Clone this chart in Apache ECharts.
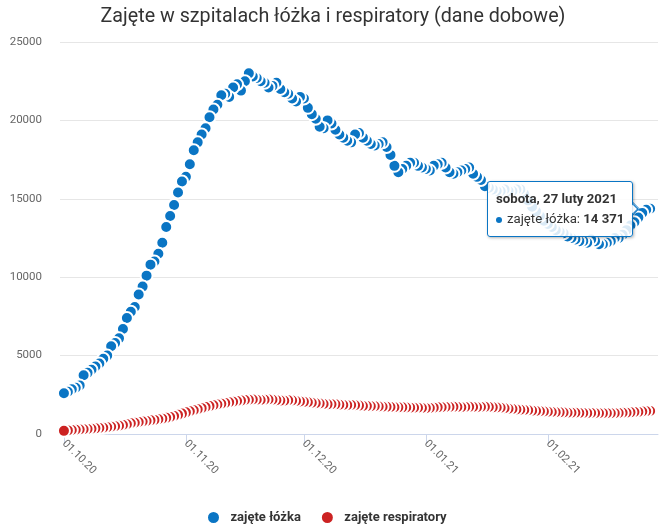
<!DOCTYPE html>
<html><head><meta charset="utf-8">
<script src="https://cdn.jsdelivr.net/npm/echarts@6/dist/echarts.min.js"></script>
<style>html,body{margin:0;padding:0;background:#fff}#c{width:666px;height:527px}</style>
</head><body><div id="c"></div>
<script>
// Daily values from 1 Oct 2020 (day index 0) to 27 Feb 2021
const bedsOct = [2600,2700,2850,2950,3100,3750,3900,4100,4300,4500,4800,5000,5600,5800,6100,6700,7400,7800,8100,8900,9400,10100,10800,11000,11500,12200,13200,13900,14600,15400,16100];
const bedsNov = [16400,17200,18100,18600,19100,19500,20200,20700,21000,21600,21700,21500,22100,22300,21900,22500,23000,22800,22700,22500,22400,22100,22200,22400,22000,21800,21700,21400,21200,21500];
const bedsDec = [21400,20800,20400,20100,19600,19500,20000,19800,19400,19100,18900,18700,18600,19100,19200,18900,18700,18500,18400,18500,18600,18300,17800,17100,16700,16900,17100,17300,17300,17100,17000];
const bedsJan = [16900,16800,17100,17200,17300,17000,16700,16600,16700,16800,16900,17000,16600,16400,16200,15800,15700,15600,15500,15500,15600,15500,15500,15600,15600,15300,14900,14500,14200,13900,13600];
const bedsFeb = [13400,13200,13000,12900,12800,12600,12500,12400,12300,12300,12200,12400,12300,12100,12100,12200,12300,12500,12500,12700,13000,13300,13500,13800,14100,14300,14371];

const ventOct = [200,230,250,270,290,300,320,340,360,380,400,430,460,490,530,570,620,680,720,760,800,830,870,900,940,980,1030,1080,1150,1220,1300];
const ventNov = [1380,1450,1520,1580,1650,1720,1780,1830,1880,1930,1980,2020,2060,2100,2130,2170,2190,2200,2180,2170,2180,2200,2190,2160,2130,2120,2150,2140,2110,2080];
const ventDec = [2050,2020,1990,1960,1940,1910,1890,1900,1890,1870,1850,1840,1850,1830,1810,1790,1780,1770,1770,1750,1740,1730,1720,1710,1700,1700,1690,1680,1670,1670,1660];
const ventJan = [1650,1660,1680,1700,1710,1720,1720,1730,1720,1710,1720,1730,1720,1710,1720,1730,1720,1700,1690,1670,1640,1610,1590,1570,1550,1530,1510,1490,1470,1450,1440];
const ventFeb = [1420,1400,1390,1380,1370,1360,1350,1350,1340,1340,1330,1340,1330,1320,1330,1330,1320,1330,1340,1350,1360,1380,1400,1410,1430,1450,1470];

const seriesNames = ['zajęte łóżka', 'zajęte respiratory'];
const tickDays = [0, 31, 61, 92, 123];
const tickLabels = ['01.10.20', '01.11.20', '01.12.20', '01.01.21', '01.02.21'];
const dayNames = ['niedziela','poniedziałek','wtorek','środa','czwartek','piątek','sobota'];
const monthNames = ['styczeń','luty','marzec','kwiecień','maj','czerwiec','lipiec','sierpień','wrzesień','październik','listopad','grudzień'];

const beds = [].concat(bedsOct, bedsNov, bedsDec, bedsJan, bedsFeb);
const vent = [].concat(ventOct, ventNov, ventDec, ventJan, ventFeb);
const tipDay = beds.length - 1;

function dateOf(i) { return new Date(Date.UTC(2020, 9, 1 + i)); }
function fmtNum(v) { return String(v).replace(/\B(?=(\d{3})+(?!\d))/g, ' '); }
// earlier days drawn on top -> reverse order
function toPoints(arr) { return arr.map((v, i) => [i, v]).reverse(); }

const BLUE = '#0a75c4', RED = '#cc2222';
const chart = echarts.init(document.getElementById('c'), null, {renderer: 'canvas'});
chart.setOption({
  animation: false,
  textStyle: {fontFamily: 'Roboto'},
  title: {text: 'Zajęte w szpitalach łóżka i respiratory (dane dobowe)', left: 'center', top: 2,
    textStyle: {fontFamily: 'Roboto', fontSize: 19.7, fontWeight: 'normal', color: '#333333'}},
  grid: {left: 60, right: 8, top: 42, bottom: 93, containLabel: false},
  legend: {top: 505, left: 201, itemGap: 19, itemWidth: 24, itemHeight: 13, icon: 'circle',
    textStyle: {fontFamily: 'Roboto', fontSize: 13, fontWeight: 'bold', color: '#333333'},
    data: seriesNames},
  tooltip: {trigger: 'item', triggerOn: 'none', alwaysShowContent: true, position: 'left',
    backgroundColor: 'rgba(255,255,255,0.85)', borderWidth: 1, padding: [7, 8],
    extraCssText: 'box-shadow:1px 1px 3px rgba(0,0,0,0.3);border-radius:3px;',
    textStyle: {fontFamily: 'Roboto', fontSize: 13.2, color: '#333333'},
    formatter: function (p) {
      const d = dateOf(p.value[0]);
      const head = dayNames[d.getUTCDay()] + ', ' + d.getUTCDate() + ' ' + monthNames[d.getUTCMonth()] + ' ' + d.getUTCFullYear();
      return '<div style="font-weight:bold;line-height:20px">' + head + '</div>' +
        '<div style="line-height:20px"><span style="display:inline-block;width:6px;height:6px;border-radius:3px;background:' + p.color + ';margin-right:5px;vertical-align:middle"></span>' +
        p.seriesName + ': <b>' + fmtNum(p.value[1]) + '</b></div>';
    }},
  xAxis: {type: 'value', min: -1, max: 151,
    axisLine: {show: true, onZero: false, lineStyle: {color: '#ccd6eb'}},
    axisTick: {show: true, length: 10, customValues: tickDays, lineStyle: {color: '#ccd6eb'}},
    axisLabel: {customValues: tickDays, rotate: -45, margin: 8, fontSize: 11, color: '#666666', fontFamily: 'Roboto',
      formatter: function (v) { const k = tickDays.indexOf(v); return k >= 0 ? tickLabels[k] : ''; }},
    splitLine: {show: false}},
  yAxis: {type: 'value', min: 0, max: 25000, interval: 5000,
    axisLine: {show: false}, axisTick: {show: false},
    axisLabel: {margin: 18, fontSize: 11.5, color: '#666666', fontFamily: 'Roboto',
      formatter: function (v) { return String(v); }},
    splitLine: {lineStyle: {color: '#e6e6e6'}}},
  series: [
    {name: seriesNames[1], type: 'scatter', data: toPoints(vent), symbolSize: 12,
      itemStyle: {color: RED, borderColor: '#ffffff', borderWidth: 2, opacity: 1}, emphasis: {disabled: true}},
    {name: seriesNames[0], type: 'scatter', data: toPoints(beds), symbolSize: 12,
      itemStyle: {color: BLUE, borderColor: '#ffffff', borderWidth: 2, opacity: 1}, emphasis: {disabled: true}}
  ]
});
// tooltip callout arrow, anchored to the highlighted point
const pt = chart.convertToPixel({seriesIndex: 1}, [tipDay, beds[tipDay]]);
const bx = pt[0] - 18, tx = pt[0] - 11, cy = pt[1];
chart.setOption({graphic: [
  {type: 'polygon', z: 100, shape: {points: [[bx, cy - 7], [tx, cy], [bx, cy + 7]]}, style: {fill: 'rgba(255,255,255,0.92)'}},
  {type: 'polyline', z: 101, shape: {points: [[bx, cy - 7], [tx, cy], [bx, cy + 7]]}, style: {stroke: BLUE, lineWidth: 1, fill: null}}
]});
setTimeout(function () {
  chart.dispatchAction({type: 'showTip', seriesIndex: 1, dataIndex: 0});
}, 50);
</script>
</body></html>
